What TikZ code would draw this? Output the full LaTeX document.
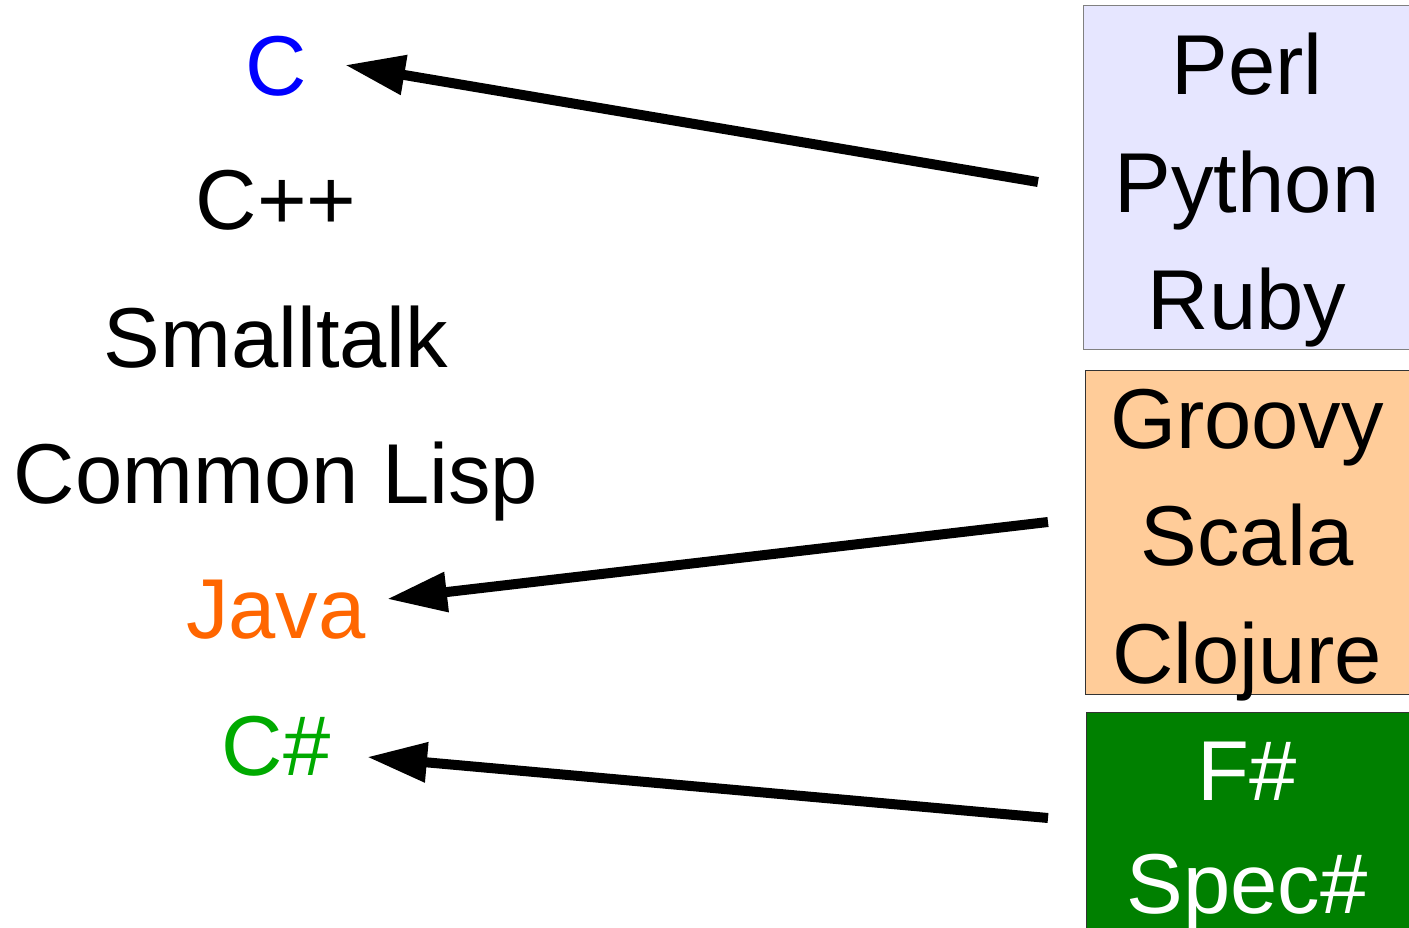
\documentclass[tikz,border=0pt]{standalone}
\usepackage{fontspec}
\setmainfont{Liberation Sans}
\usetikzlibrary{arrows.meta}
\definecolor{lavbox}{HTML}{E6E6FF}
\definecolor{peachbox}{HTML}{FFCC99}
\definecolor{greenbox}{HTML}{008000}
\definecolor{cblue}{HTML}{0000FF}
\definecolor{javaorange}{HTML}{FF6600}
\definecolor{csgreen}{HTML}{00AA00}
\tikzset{
  lang/.style={anchor=base, inner sep=0pt, font=\fontsize{85}{100}\selectfont},
  langbox/.style={draw, line width=1.3pt, anchor=north west, inner sep=0pt},
  link/.style={line width=10pt, -{Triangle[length=60pt,width=38pt]}}
}
\begin{document}
\begin{tikzpicture}[x=1pt, y=-1pt]
  \useasboundingbox (0,0) rectangle (1409,928);

  % boxes on the right
  \node[langbox, draw=gray, fill=lavbox, minimum width=328pt, minimum height=344pt] (boxA) at (1083,5) {};
  \node[langbox, draw=black!80, fill=peachbox, minimum width=326pt, minimum height=324pt] (boxB) at (1085,370) {};
  \node[langbox, draw=black!80, fill=greenbox, minimum width=325pt, minimum height=240pt] (boxC) at (1086,712) {};

  % languages inside the boxes
  \node[lang] (perl)    at (1247,95)  {Perl};
  \node[lang] (python)  at (1247,213) {Python};
  \node[lang] (ruby)    at (1247,330) {Ruby};
  \node[lang] (groovy)  at (1247,448) {Groovy};
  \node[lang] (scala)   at (1247,565) {Scala};
  \node[lang] (clojure) at (1247,683) {Clojure};
  \node[lang, text=white] (fsharp) at (1247,800) {F\#};
  \node[lang, text=white] (specs)  at (1247,913) {Spec\#};

  % base languages on the left
  \node[lang, text=cblue] (c)      at (276,96)  {C};
  \node[lang] (cpp)                at (276,230) {C++};
  \node[lang] (smalltalk)          at (276,367) {Smalltalk};
  \node[lang] (lisp)               at (276,503) {Common Lisp};
  \node[lang, text=javaorange] (java) at (276,638) {Java};
  \node[lang, text=csgreen] (csharp)  at (276,775) {C\#};

  % arrow end points
  \coordinate (fromA) at (1038,182);
  \coordinate (toC)   at (345,65);
  \coordinate (fromB) at (1048,522);
  \coordinate (toJava) at (387,599);
  \coordinate (fromC) at (1048,818);
  \coordinate (toCs)  at (367,757);

  \draw[link] (fromA) -- (toC);
  \draw[link] (fromB) -- (toJava);
  \draw[link] (fromC) -- (toCs);
\end{tikzpicture}
\end{document}
